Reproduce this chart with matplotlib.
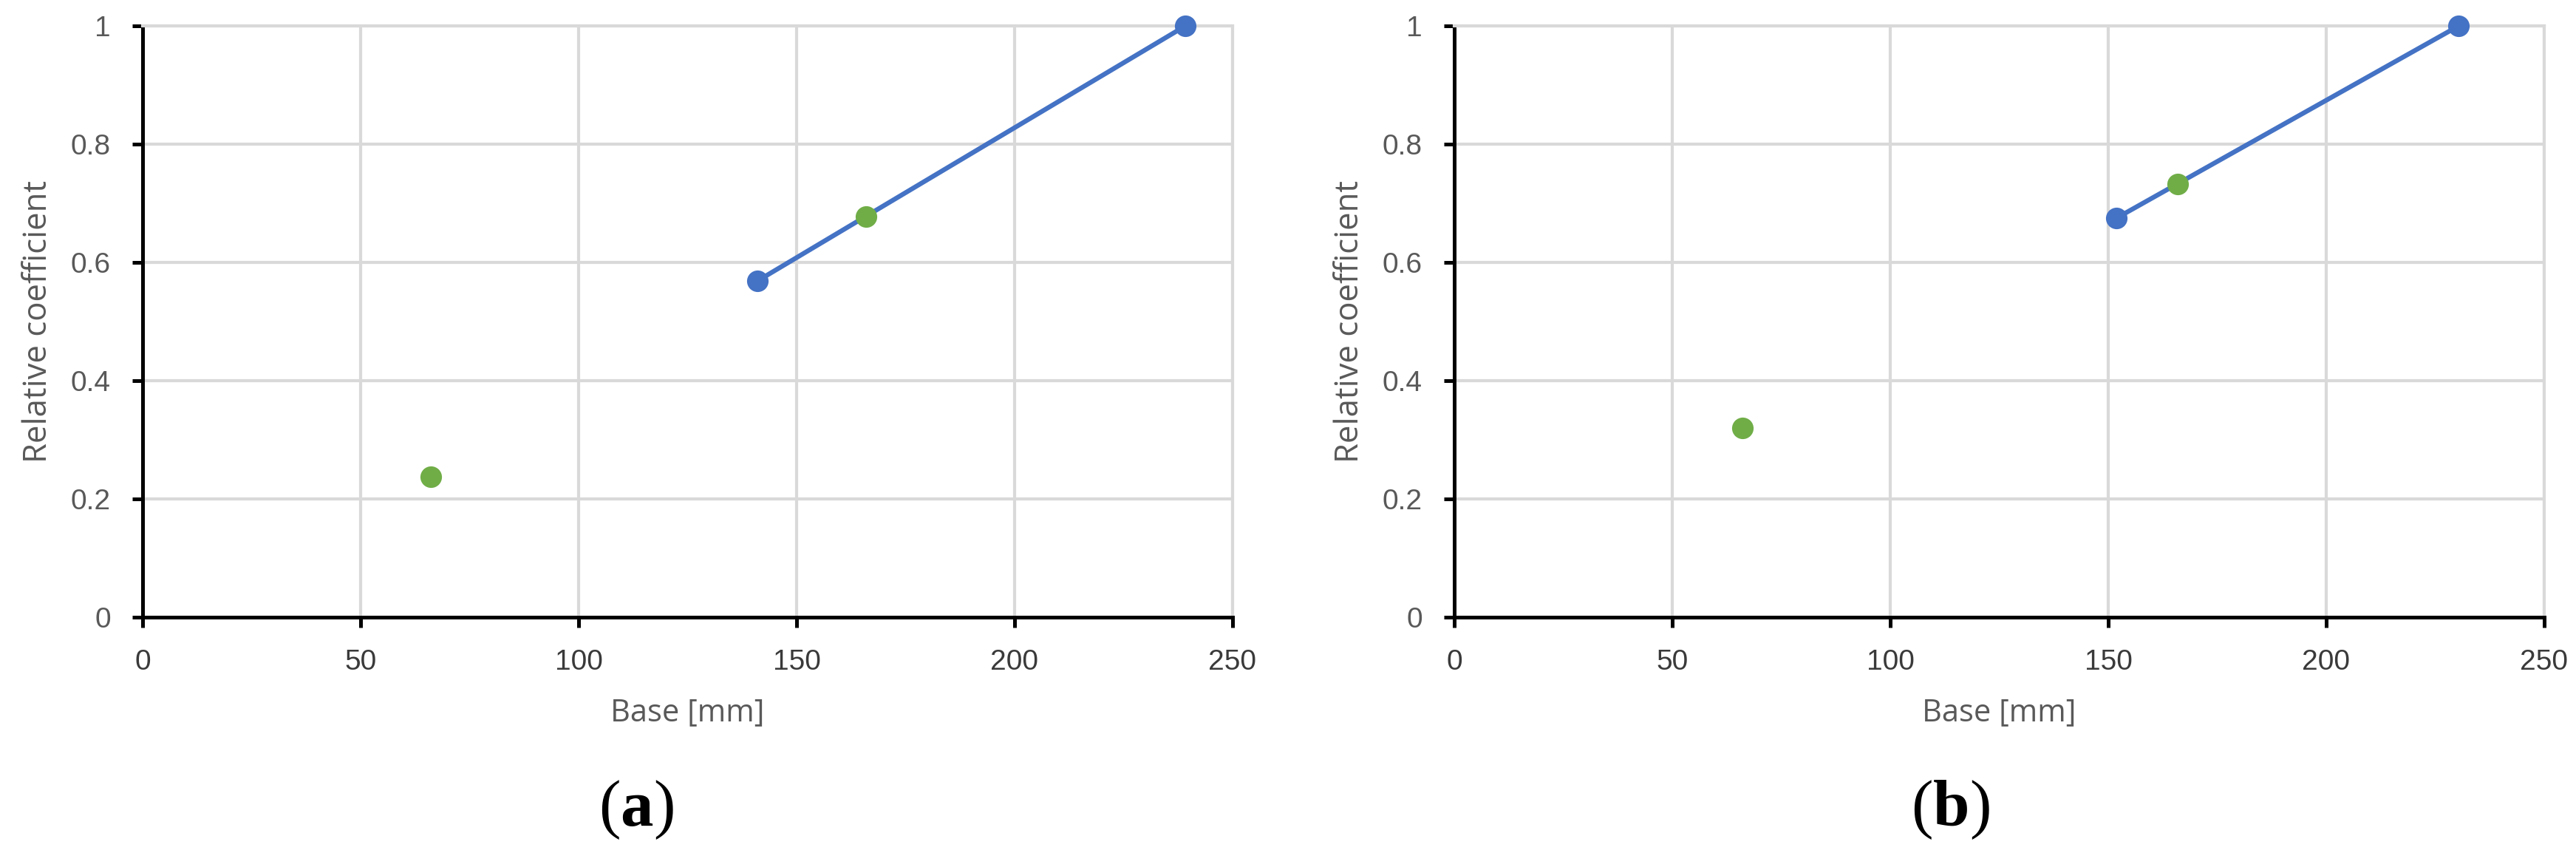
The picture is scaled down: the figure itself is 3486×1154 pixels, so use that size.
import matplotlib
matplotlib.use("Agg")
import matplotlib.pyplot as plt

# (a) panel data
base_line_a = [141.1, 239.2]
coef_line_a = [0.569, 1.0]
base_pts_a = [66.1, 166.0]
coef_pts_a = [0.237, 0.678]

# (b) panel data
base_line_b = [151.9, 230.4]
coef_line_b = [0.675, 1.0]
base_pts_b = [66.1, 166.0]
coef_pts_b = [0.320, 0.733]

x_ticks = [0, 50, 100, 150, 200, 250]
y_ticks = [0, 0.2, 0.4, 0.6, 0.8, 1.0]
y_tick_labels = ["0", "0.2", "0.4", "0.6", "0.8", "1"]

plt.rcParams['mathtext.fontset'] = 'custom'
plt.rcParams['mathtext.bf'] = 'Liberation Serif:bold'
plt.rcParams['mathtext.rm'] = 'Liberation Serif'

blue = '#4472c4'
green = '#70ad47'
grid_c = '#d9d9d9'

W, H = 3487, 1154
fig = plt.figure(figsize=(W / 100, H / 100), dpi=100)

panels = [
    (193, base_line_a, coef_line_a, base_pts_a, coef_pts_a, 861, "a"),
    (1968, base_line_b, coef_line_b, base_pts_b, coef_pts_b, 2639, "b"),
]

for left_px, bx, by, gx, gy, cap_x, letter in panels:
    ax = fig.add_axes([left_px / W, 1 - 835 / H, 1475 / W, 800 / H])
    ax.plot(bx, by, color=blue, linewidth=4.6, marker='o', markersize=21,
            markeredgewidth=0, zorder=3, clip_on=False, solid_capstyle='round')
    ax.plot(gx, gy, linestyle='none', color=green, marker='o', markersize=21,
            markeredgewidth=0, zorder=4, clip_on=False)

    ax.set_xlim(0, 250)
    ax.set_ylim(0, 1)
    ax.set_xticks(x_ticks)
    ax.set_yticks(y_ticks)
    ax.set_yticklabels(y_tick_labels)
    ax.grid(True, color=grid_c, linewidth=3)
    ax.set_axisbelow(True)

    for s in ['left', 'bottom']:
        ax.spines[s].set_color('black')
        ax.spines[s].set_linewidth(3.6)
    for s in ['top', 'right']:
        ax.spines[s].set_color(grid_c)
        ax.spines[s].set_linewidth(3)

    ax.tick_params(axis='both', direction='out', length=10, width=3.6, color='black', pad=21)
    for lab in ax.get_xticklabels():
        lab.set_fontfamily('Liberation Sans')
        lab.set_fontsize(28)
        lab.set_color('#3a3a3a')
    for lab in ax.get_yticklabels():
        lab.set_fontfamily('Liberation Sans')
        lab.set_fontsize(28)
        lab.set_color('#595959')

    ax.set_xlabel("Base [mm]", fontsize=30, family='Open Sans', color='#595959', va='center')
    ax.xaxis.set_label_coords(0.5, -0.161)
    ax.set_ylabel("Relative coefficient", fontsize=31.5, family='Open Sans', color='#595959', va='center')
    ax.yaxis.set_label_coords(-0.0956, 0.5)

    fig.text(cap_x / W, 1 - 1096 / H, r"($\mathbf{" + letter + "}$)", fontsize=64,
             family='Liberation Serif', ha='center', va='center')

fig.savefig("out.png", dpi=100, facecolor='white')
